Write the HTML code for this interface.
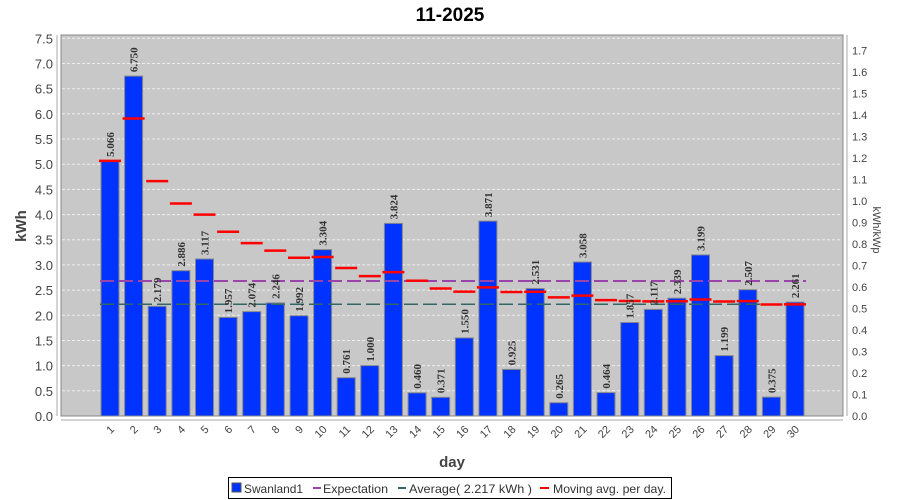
<!DOCTYPE html>
<html><head><meta charset="utf-8"><style>body{margin:0;background:#fff}svg{display:block}</style></head><body>
<svg width="900" height="500" xmlns="http://www.w3.org/2000/svg" font-family="Liberation Sans, sans-serif">
<rect width="900" height="500" fill="#fff"/>
<text x="450" y="21" text-anchor="middle" font-size="19" font-weight="bold">11-2025</text>
<rect x="61" y="35" width="782" height="381" fill="#c8c8c8" stroke="#888" stroke-width="1"/>
<g stroke="#eee" stroke-dasharray="3,2" stroke-width="1">
<line x1="62" x2="842" y1="390.8" y2="390.8"/><line x1="62" x2="842" y1="365.6" y2="365.6"/>
<line x1="62" x2="842" y1="340.5" y2="340.5"/><line x1="62" x2="842" y1="315.3" y2="315.3"/>
<line x1="62" x2="842" y1="290.1" y2="290.1"/><line x1="62" x2="842" y1="264.9" y2="264.9"/>
<line x1="62" x2="842" y1="239.7" y2="239.7"/><line x1="62" x2="842" y1="214.6" y2="214.6"/>
<line x1="62" x2="842" y1="189.4" y2="189.4"/><line x1="62" x2="842" y1="164.2" y2="164.2"/>
<line x1="62" x2="842" y1="139.0" y2="139.0"/><line x1="62" x2="842" y1="113.8" y2="113.8"/>
<line x1="62" x2="842" y1="88.7" y2="88.7"/><line x1="62" x2="842" y1="63.5" y2="63.5"/>
<line x1="62" x2="842" y1="38.3" y2="38.3"/>
</g>
<line x1="57" y1="35" x2="57" y2="416" stroke="#aaa"/>
<g font-size="13" fill="#444" text-anchor="end">
<text x="53" y="421">0.0</text><text x="53" y="395.8">0.5</text><text x="53" y="370.6">1.0</text><text x="53" y="345.5">1.5</text><text x="53" y="320.3">2.0</text><text x="53" y="295.1">2.5</text><text x="53" y="269.9">3.0</text><text x="53" y="244.7">3.5</text><text x="53" y="219.6">4.0</text><text x="53" y="194.4">4.5</text><text x="53" y="169.2">5.0</text><text x="53" y="144">5.5</text><text x="53" y="118.8">6.0</text><text x="53" y="93.7">6.5</text><text x="53" y="68.5">7.0</text><text x="53" y="43.3">7.5</text>
</g>
<text transform="translate(26,226) rotate(-90)" text-anchor="middle" font-size="15" font-weight="bold" fill="#444">kWh</text>
<line x1="847" y1="35" x2="847" y2="416" stroke="#aaa"/>
<g font-size="11" fill="#444">
<text x="852" y="420">0.0</text><text x="852" y="398.5">0.1</text><text x="852" y="377">0.2</text><text x="852" y="355.5">0.3</text><text x="852" y="334">0.4</text><text x="852" y="312.5">0.5</text><text x="852" y="291">0.6</text><text x="852" y="269.5">0.7</text><text x="852" y="248">0.8</text><text x="852" y="226.5">0.9</text><text x="852" y="205">1.0</text><text x="852" y="183.5">1.1</text><text x="852" y="162">1.2</text><text x="852" y="140.5">1.3</text><text x="852" y="119">1.4</text><text x="852" y="97.5">1.5</text><text x="852" y="76">1.6</text><text x="852" y="54.5">1.7</text>
</g>
<text transform="translate(873,230) rotate(90)" text-anchor="middle" font-size="11" fill="#444">kWh/kWp</text>
<line x1="61" y1="420" x2="843" y2="420" stroke="#aaa"/>
<g fill="#0033ff" stroke="#888" stroke-width="1">
<rect x="101" y="160.9" width="18" height="255.1"/><rect x="124.6" y="76.1" width="18" height="339.9"/><rect x="148.2" y="306.3" width="18" height="109.7"/><rect x="171.9" y="270.7" width="18" height="145.3"/><rect x="195.5" y="259" width="18" height="157"/><rect x="219.1" y="317.4" width="18" height="98.6"/><rect x="242.7" y="311.6" width="18" height="104.4"/><rect x="266.3" y="302.9" width="18" height="113.1"/><rect x="290" y="315.7" width="18" height="100.3"/><rect x="313.6" y="249.6" width="18" height="166.4"/><rect x="337.2" y="377.7" width="18" height="38.3"/><rect x="360.8" y="365.6" width="18" height="50.4"/><rect x="384.4" y="223.4" width="18" height="192.6"/><rect x="408.1" y="392.8" width="18" height="23.2"/><rect x="431.7" y="397.3" width="18" height="18.7"/><rect x="455.3" y="337.9" width="18" height="78.1"/><rect x="478.9" y="221.1" width="18" height="194.9"/><rect x="502.5" y="369.4" width="18" height="46.6"/><rect x="526.2" y="288.5" width="18" height="127.5"/><rect x="549.8" y="402.7" width="18" height="13.3"/><rect x="573.4" y="262" width="18" height="154"/><rect x="597" y="392.6" width="18" height="23.4"/><rect x="620.7" y="322.5" width="18" height="93.5"/><rect x="644.3" y="309.4" width="18" height="106.6"/><rect x="667.9" y="298.2" width="18" height="117.8"/><rect x="691.5" y="254.9" width="18" height="161.1"/><rect x="715.1" y="355.6" width="18" height="60.4"/><rect x="738.8" y="289.7" width="18" height="126.3"/><rect x="762.4" y="397.1" width="18" height="18.9"/><rect x="786" y="302.1" width="18" height="113.9"/>
</g>
<line x1="100" x2="806" y1="281" y2="281" stroke="#9944aa" stroke-width="2" stroke-dasharray="14,5"/>
<line x1="100" x2="806" y1="304.3" y2="304.3" stroke="#336666" stroke-width="1.5" stroke-dasharray="14,5"/>
<g stroke="#ff0000" stroke-width="2.5">
<line x1="99" x2="121" y1="160.9" y2="160.9"/><line x1="122.6" x2="144.6" y1="118.5" y2="118.5"/><line x1="146.2" x2="168.2" y1="181.1" y2="181.1"/><line x1="169.9" x2="191.9" y1="203.5" y2="203.5"/><line x1="193.5" x2="215.5" y1="214.6" y2="214.6"/><line x1="217.1" x2="239.1" y1="231.7" y2="231.7"/><line x1="240.7" x2="262.7" y1="243.1" y2="243.1"/><line x1="264.3" x2="286.3" y1="250.6" y2="250.6"/><line x1="288" x2="310" y1="257.8" y2="257.8"/><line x1="311.6" x2="333.6" y1="257" y2="257"/><line x1="335.2" x2="357.2" y1="268" y2="268"/><line x1="358.8" x2="380.8" y1="276.1" y2="276.1"/><line x1="382.4" x2="404.4" y1="272.1" y2="272.1"/><line x1="406.1" x2="428.1" y1="280.7" y2="280.7"/><line x1="429.7" x2="451.7" y1="288.5" y2="288.5"/><line x1="453.3" x2="475.3" y1="291.6" y2="291.6"/><line x1="476.9" x2="498.9" y1="287.4" y2="287.4"/><line x1="500.5" x2="522.5" y1="292" y2="292"/><line x1="524.2" x2="546.2" y1="291.8" y2="291.8"/><line x1="547.8" x2="569.8" y1="297.4" y2="297.4"/><line x1="571.4" x2="593.4" y1="295.6" y2="295.6"/><line x1="595" x2="617" y1="300.1" y2="300.1"/><line x1="618.7" x2="640.7" y1="301" y2="301"/><line x1="642.3" x2="664.3" y1="301.4" y2="301.4"/><line x1="665.9" x2="687.9" y1="301.2" y2="301.2"/><line x1="689.5" x2="711.5" y1="299.5" y2="299.5"/><line x1="713.1" x2="735.1" y1="301.5" y2="301.5"/><line x1="736.8" x2="758.8" y1="301.1" y2="301.1"/><line x1="760.4" x2="782.4" y1="304.5" y2="304.5"/><line x1="784" x2="806" y1="304.4" y2="304.4"/>
</g>
<g font-family="Liberation Serif, serif" font-weight="bold" font-size="11" fill="#333">
<text transform="translate(114,156.9) rotate(-90)">5.066</text><text transform="translate(137.6,72.1) rotate(-90)">6.750</text><text transform="translate(161.2,302.3) rotate(-90)">2.179</text><text transform="translate(184.9,266.7) rotate(-90)">2.886</text><text transform="translate(208.5,255) rotate(-90)">3.117</text><text transform="translate(232.1,313.4) rotate(-90)">1.957</text><text transform="translate(255.7,307.6) rotate(-90)">2.074</text><text transform="translate(279.3,298.9) rotate(-90)">2.246</text><text transform="translate(303,311.7) rotate(-90)">1.992</text><text transform="translate(326.6,245.6) rotate(-90)">3.304</text><text transform="translate(350.2,373.7) rotate(-90)">0.761</text><text transform="translate(373.8,361.6) rotate(-90)">1.000</text><text transform="translate(397.4,219.4) rotate(-90)">3.824</text><text transform="translate(421.1,388.8) rotate(-90)">0.460</text><text transform="translate(444.7,393.3) rotate(-90)">0.371</text><text transform="translate(468.3,333.9) rotate(-90)">1.550</text><text transform="translate(491.9,217.1) rotate(-90)">3.871</text><text transform="translate(515.5,365.4) rotate(-90)">0.925</text><text transform="translate(539.2,284.5) rotate(-90)">2.531</text><text transform="translate(562.8,398.7) rotate(-90)">0.265</text><text transform="translate(586.4,258) rotate(-90)">3.058</text><text transform="translate(610,388.6) rotate(-90)">0.464</text><text transform="translate(633.7,318.5) rotate(-90)">1.857</text><text transform="translate(657.3,305.4) rotate(-90)">2.117</text><text transform="translate(680.9,294.2) rotate(-90)">2.339</text><text transform="translate(704.5,250.9) rotate(-90)">3.199</text><text transform="translate(728.1,351.6) rotate(-90)">1.199</text><text transform="translate(751.8,285.7) rotate(-90)">2.507</text><text transform="translate(775.4,393.1) rotate(-90)">0.375</text><text transform="translate(799,298.1) rotate(-90)">2.261</text>
</g>
<g font-size="11" fill="#444" text-anchor="end">
<text transform="translate(115,430) rotate(-45)">1</text><text transform="translate(138.6,430) rotate(-45)">2</text><text transform="translate(162.2,430) rotate(-45)">3</text><text transform="translate(185.9,430) rotate(-45)">4</text><text transform="translate(209.5,430) rotate(-45)">5</text><text transform="translate(233.1,430) rotate(-45)">6</text><text transform="translate(256.7,430) rotate(-45)">7</text><text transform="translate(280.3,430) rotate(-45)">8</text><text transform="translate(304,430) rotate(-45)">9</text><text transform="translate(327.6,430) rotate(-45)">10</text><text transform="translate(351.2,430) rotate(-45)">11</text><text transform="translate(374.8,430) rotate(-45)">12</text><text transform="translate(398.4,430) rotate(-45)">13</text><text transform="translate(422.1,430) rotate(-45)">14</text><text transform="translate(445.7,430) rotate(-45)">15</text><text transform="translate(469.3,430) rotate(-45)">16</text><text transform="translate(492.9,430) rotate(-45)">17</text><text transform="translate(516.5,430) rotate(-45)">18</text><text transform="translate(540.2,430) rotate(-45)">19</text><text transform="translate(563.8,430) rotate(-45)">20</text><text transform="translate(587.4,430) rotate(-45)">21</text><text transform="translate(611,430) rotate(-45)">22</text><text transform="translate(634.7,430) rotate(-45)">23</text><text transform="translate(658.3,430) rotate(-45)">24</text><text transform="translate(681.9,430) rotate(-45)">25</text><text transform="translate(705.5,430) rotate(-45)">26</text><text transform="translate(729.1,430) rotate(-45)">27</text><text transform="translate(752.8,430) rotate(-45)">28</text><text transform="translate(776.4,430) rotate(-45)">29</text><text transform="translate(800,430) rotate(-45)">30</text>
</g>
<text x="452" y="467" text-anchor="middle" font-size="15" font-weight="bold" fill="#444">day</text>
<rect x="228.5" y="477.5" width="443" height="21" fill="#fff" stroke="#000"/>
<rect x="232" y="483" width="9" height="9" fill="#0033ff" stroke="#555"/>
<line x1="313" x2="321" y1="488" y2="488" stroke="#9944aa" stroke-width="2"/>
<line x1="398" x2="406" y1="488" y2="488" stroke="#336666" stroke-width="2"/>
<line x1="540" x2="549" y1="488" y2="488" stroke="#ff0000" stroke-width="2"/>
<g font-size="12" fill="#333">
<text x="244" y="493" textLength="59" lengthAdjust="spacingAndGlyphs">Swanland1</text>
<text x="323" y="493" textLength="65" lengthAdjust="spacingAndGlyphs">Expectation</text>
<text x="409" y="493" textLength="123" lengthAdjust="spacingAndGlyphs">Average( 2.217 kWh )</text>
<text x="553" y="493" textLength="113" lengthAdjust="spacingAndGlyphs">Moving avg. per day.</text>
</g>
</svg>
</body></html>
